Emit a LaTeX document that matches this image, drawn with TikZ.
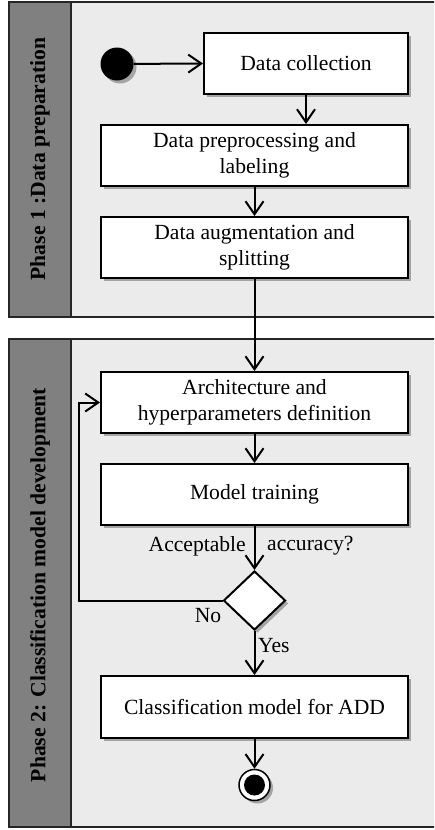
\documentclass[tikz,border=0pt]{standalone}
\usepackage{fontspec}
\setmainfont{Liberation Serif}
\usetikzlibrary{arrows.meta,shapes.geometric,shadows}
\begin{document}
\begin{tikzpicture}[x=1pt,y=-1pt,
  every node/.style={font=\fontsize{21.6}{25.5}\selectfont},
  shad/.style={drop shadow={shadow xshift=3pt,shadow yshift=-3pt,fill=black,opacity=0.3}},
  actbox/.style={draw=black,line width=2pt,fill=white,minimum height=61pt,inner sep=2pt,align=center,shad},
  arr/.style={line width=2pt,-{Straight Barb[length=13pt,width=18pt,line width=2pt]}},
  panel/.style={draw=black!85,line width=1.8pt,fill=black!8},
  strip/.style={draw=black!85,line width=1.8pt,fill=black!50},
  phaselabel/.style={font=\fontsize{21.6}{25}\selectfont\bfseries,rotate=90}]
\useasboundingbox (0,0) rectangle (434,830);
\clip (0,0) rectangle (434,830);
% panels
\path[panel] (9,2) rectangle (440,317);
\path[strip] (9,2) rectangle (71,317);
\path[panel] (9,339) rectangle (440,827);
\path[strip] (9,339) rectangle (71,827);
\node[phaselabel] (p1) at (40,159) {Phase 1 :Data preparation};
\node[phaselabel] (p2) at (40,585) {Phase 2: Classification model development};
% nodes
\node[circle,fill=black,minimum size=33pt,inner sep=0pt,shad] (start) at (117,64) {};
\node[actbox,minimum width=204pt] (dc) at (306,63.5) {Data collection};
\node[actbox,minimum width=307pt] (dp) at (254.5,155.5) {Data preprocessing and\\labeling};
\node[actbox,minimum width=307pt] (da) at (254.5,247.5) {Data augmentation and\\splitting};
\node[actbox,minimum width=307pt] (arch) at (254.5,402.5) {Architecture and\\hyperparameters definition};
\node[actbox,minimum width=307pt] (mt) at (254.5,494.5) {Model training};
\node[diamond,draw=black,line width=2pt,fill=white,minimum width=62pt,minimum height=59pt,inner sep=0pt,shad] (dec) at (254.5,600.5) {};
\node[actbox,minimum width=307pt,minimum height=62pt] (cm) at (254.5,707) {Classification model for ADD};
\node[circle,draw=black,line width=1.5pt,fill=white,minimum size=31pt,inner sep=0pt,shad] (end) at (254.5,785) {};
\node[circle,fill=black,minimum size=21pt,inner sep=0pt] (endin) at (end.center) {};
\coordinate (lp) at (79,600.5);
% labels
\node[anchor=east,inner sep=0pt] (acc1) at (246,546) {Acceptable};
\node[anchor=west,inner sep=0pt] (acc2) at (267,546) {accuracy?};
\node[inner sep=0pt] (no) at (208,616) {No};
\node[anchor=west,inner sep=0pt] (yes) at (258,646) {Yes};
% connectors
\draw[arr] (start) -- (dc.west);
\draw[arr] (dc.south) -- (dc.south |- dp.north);
\draw[arr] (dp.south) -- (da.north);
\draw[arr] (da.south) -- (arch.north);
\draw[arr] (arch.south) -- (mt.north);
\draw[arr] (mt.south) -- (dec.north);
\draw[arr] (dec.west) -- (lp) |- (arch.west);
\draw[arr] (dec.south) -- (cm.north);
\draw[arr] (cm.south) -- (end.north);
\end{tikzpicture}
\end{document}
